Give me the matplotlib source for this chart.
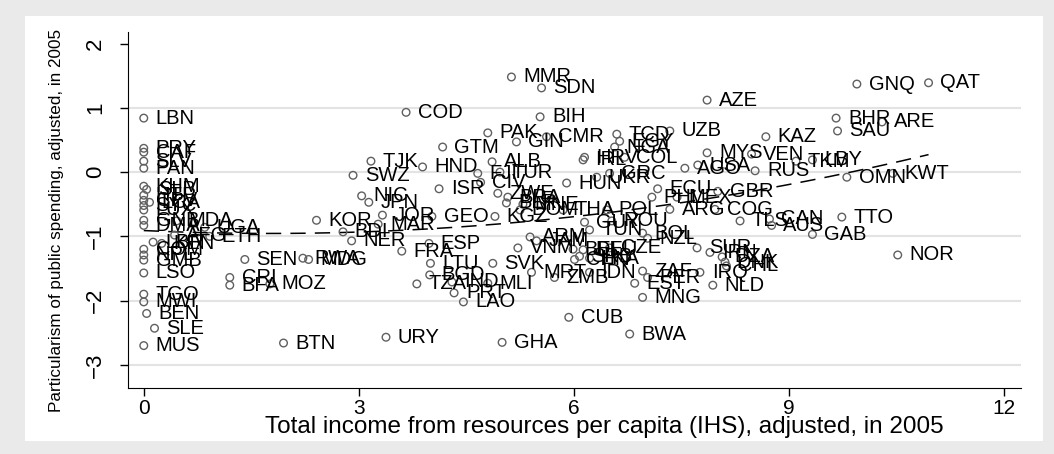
import numpy as np
import matplotlib.pyplot as plt
from matplotlib import font_manager
from matplotlib.patches import Rectangle

# codigos dos paises (rotulos dos pontos)
paises = [
    "LBN", "PRY", "CAF", "SLV", "PAN", "KHM", "SLB", "HTI", "CPV", "LCA",
    "SYC", "LUX", "GNB", "MDA", "DMA", "UGA", "AFG", "ETH", "LBR", "KEN",
    "COM", "NPL", "GMB", "LSO", "TGO", "MWI", "BEN", "SLE", "MUS", "BTN",
    "SEN", "RWA", "MDG", "CRI", "BFA", "MOZ", "KOR", "BDI", "NER", "SWZ",
    "TJK", "NIC", "JPN", "MAR", "JOR", "URY", "FRA", "COD", "TZA", "HND",
    "ESP", "BGD", "LTU", "GEO", "ISR", "GTM", "IND", "PRT", "LAO", "FJI",
    "CIV", "PAK", "MLI", "ALB", "SVK", "KGZ", "ZWE", "TUR", "GHA", "BRA",
    "BLR", "MMR", "GIN", "VNM", "DOM", "MNE", "ARM", "MRT", "JAM", "BIH",
    "SDN", "CMR", "ZMB", "THA", "HUN", "CUB", "BEL", "DEU", "SRB", "CHN",
    "LKA", "IRL", "HRV", "GUY", "IDN", "TUN", "UKR", "POL", "GRC", "CZE",
    "ROU", "NGA", "TCD", "EGY", "COL", "BWA", "EST", "BOL", "ZAF", "MNG",
    "PER", "NZL", "PHL", "ECU", "ARG", "UZB", "MEX", "AGO", "SUR", "USA",
    "IRQ", "AZE", "MYS", "IRN", "NLD", "COG", "GBR", "DZA", "DNK", "CHL",
    "TLS", "VEN", "RUS", "KAZ", "CAN", "AUS", "TKM", "GAB", "LBY", "BHR",
    "SAU", "TTO", "OMN", "GNQ", "ARE", "KWT", "NOR", "QAT",
]

# renda total de recursos per capita (IHS), 2005
renda = [
    0.00, 0.00, 0.00, 0.00, 0.00, 0.00, 0.04, 0.00, 0.00, 0.08,
    0.00, 0.00, 0.00, 0.46, 0.00, 0.85, 0.43, 0.92, 0.13, 0.25,
    0.00, 0.00, 0.00, 0.00, 0.00, 0.00, 0.04, 0.15, 0.00, 1.95,
    1.41, 2.22, 2.30, 1.20, 1.20, 1.76, 2.41, 2.78, 2.90, 2.92,
    3.17, 3.04, 3.14, 3.27, 3.33, 3.38, 3.60, 3.66, 3.81, 3.89,
    3.98, 3.99, 4.00, 4.02, 4.12, 4.17, 4.30, 4.33, 4.46, 4.66,
    4.70, 4.80, 4.80, 4.86, 4.87, 4.90, 4.94, 4.97, 5.00, 5.08,
    5.06, 5.13, 5.20, 5.22, 5.25, 5.29, 5.39, 5.41, 5.48, 5.53,
    5.55, 5.62, 5.73, 5.85, 5.90, 5.93, 5.99, 6.13, 6.08, 6.01,
    6.22, 6.13, 6.15, 6.15, 6.22, 6.22, 6.32, 6.46, 6.50, 6.50,
    6.53, 6.57, 6.60, 6.64, 6.71, 6.78, 6.85, 6.96, 6.96, 6.96,
    7.03, 7.03, 7.09, 7.17, 7.34, 7.34, 7.44, 7.55, 7.72, 7.73,
    7.76, 7.86, 7.86, 7.90, 7.94, 7.97, 8.01, 8.07, 8.11, 8.13,
    8.32, 8.48, 8.53, 8.68, 8.73, 8.76, 9.10, 9.33, 9.33, 9.66,
    9.68, 9.74, 9.81, 9.95, 10.30, 10.45, 10.52, 10.95,
]

# particularismo do gasto publico, 2005
partic = [
    0.84, 0.37, 0.31, 0.17, 0.06, -0.22, -0.27, -0.36, -0.44, -0.47,
    -0.52, -0.59, -0.75, -0.76, -0.83, -0.86, -0.98, -1.00, -1.09, -1.11,
    -1.20, -1.29, -1.37, -1.57, -1.90, -2.02, -2.20, -2.43, -2.70, -2.66,
    -1.36, -1.34, -1.36, -1.64, -1.76, -1.74, -0.75, -0.93, -1.07, -0.05,
    0.17, -0.37, -0.47, -0.81, -0.67, -2.57, -1.23, 0.93, -1.74, 0.08,
    -1.11, -1.60, -1.42, -0.69, -0.26, 0.39, -1.71, -1.88, -2.02, -0.02,
    -0.16, 0.61, -1.73, 0.16, -1.42, -0.69, -0.33, 0.00, -2.65, -0.39,
    -0.48, 1.48, 0.47, -1.18, -0.59, -0.50, -1.01, -1.56, -1.07, 0.86,
    1.31, 0.55, -1.64, -0.59, -0.17, -2.26, -1.20, -1.21, -1.31, -1.36,
    -1.34, 0.19, 0.23, -0.78, -1.56, -0.90, -0.08, -0.59, -0.02, -1.18,
    -0.76, 0.39, 0.59, 0.48, 0.23, -2.52, -1.73, -0.95, -1.54, -1.95,
    -1.64, -1.03, -0.39, -0.26, -0.58, 0.64, -0.39, 0.06, -1.18, 0.11,
    -1.56, 1.12, 0.30, -1.25, -1.76, -0.58, -0.30, -1.32, -1.40, -1.46,
    -0.76, 0.28, 0.02, 0.55, -0.73, -0.83, 0.17, -0.97, 0.19, 0.84,
    0.64, -0.70, -0.08, 1.37, 0.78, -0.02, -1.29, 1.39,
]

x = np.array(renda)
y = np.array(partic)

plt.rcParams["font.family"] = ["Liberation Sans", "DejaVu Sans"]

# fonte estreita para o texto vertical, se existir
try:
    font_manager.findfont("Liberation Sans Narrow", fallback_to_default=False)
    fonte_v, tam_v = ["Liberation Sans Narrow", "Liberation Sans"], 15
except Exception:
    fonte_v, tam_v = ["Liberation Sans", "DejaVu Sans"], 12.3

fig = plt.figure(figsize=(10.54, 4.54), dpi=100)
fig.patch.set_facecolor("#eaeaea")
# area branca interna (estilo Stata)
fig.patches.append(Rectangle((25 / 1054, 1 - 441 / 454), (1043 - 25) / 1054, (441 - 16) / 454,
                             transform=fig.transFigure, facecolor="white", edgecolor="none", zorder=-10))

ax = fig.add_axes([128 / 1054, 1 - 388 / 454, (1021 - 128) / 1054, (388 - 32) / 454])
ax.set_zorder(2)
ax.set_facecolor("white")

# pontos e rotulos
ax.scatter(x, y, s=30, facecolors="none", edgecolors="#606060", linewidths=1.0, zorder=3)
for nome, xi, yi in zip(paises, x, y):
    ax.annotate(nome, (xi, yi), xytext=(8.5, 0), textcoords="offset points",
                va="center", ha="left", fontsize=14.5, color="black", zorder=4)

# ajuste quadratico
coef = np.polyfit(x, y, 2)
xs = np.linspace(x.min(), x.max(), 200)
ax.plot(xs, np.polyval(coef, xs), color="black", lw=1.1, ls=(0, (10, 6)), zorder=2)

ax.set_xlim(-0.22, 12.24)
ax.set_ylim(-3.36, 2.18)
ax.set_xticks([0, 3, 6, 9, 12])
ax.set_yticks([-3, -2, -1, 0, 1, 2])
ax.set_yticklabels(["\u22123", "\u22122", "\u22121", "0", "1", "2"], rotation=90, va="center",
                   family=fonte_v, fontsize=16)
for yy in [-3, -2, -1, 0, 1]:
    ax.axhline(yy, color="#e3e3e3", lw=1.5, zorder=1)

for s in ["top", "right"]:
    ax.spines[s].set_visible(False)
ax.spines["left"].set_color("black")
ax.spines["bottom"].set_color("black")
ax.tick_params(direction="out", length=6, width=1, colors="black")
ax.tick_params(axis="x", labelsize=15, pad=2)
ax.tick_params(axis="y", pad=10)

fig.text(604 / 1054, 1 - 427 / 454, "Total income from resources per capita (IHS), adjusted, in 2005",
         fontsize=17.5, ha="center", va="center")
fig.text(57 / 1054, 1 - 220 / 454, "Particularism of public spending, adjusted, in 2005",
         fontsize=tam_v, family=fonte_v, rotation=90, ha="center", va="center")

fig.savefig("out.png", dpi=100, facecolor=fig.get_facecolor())
